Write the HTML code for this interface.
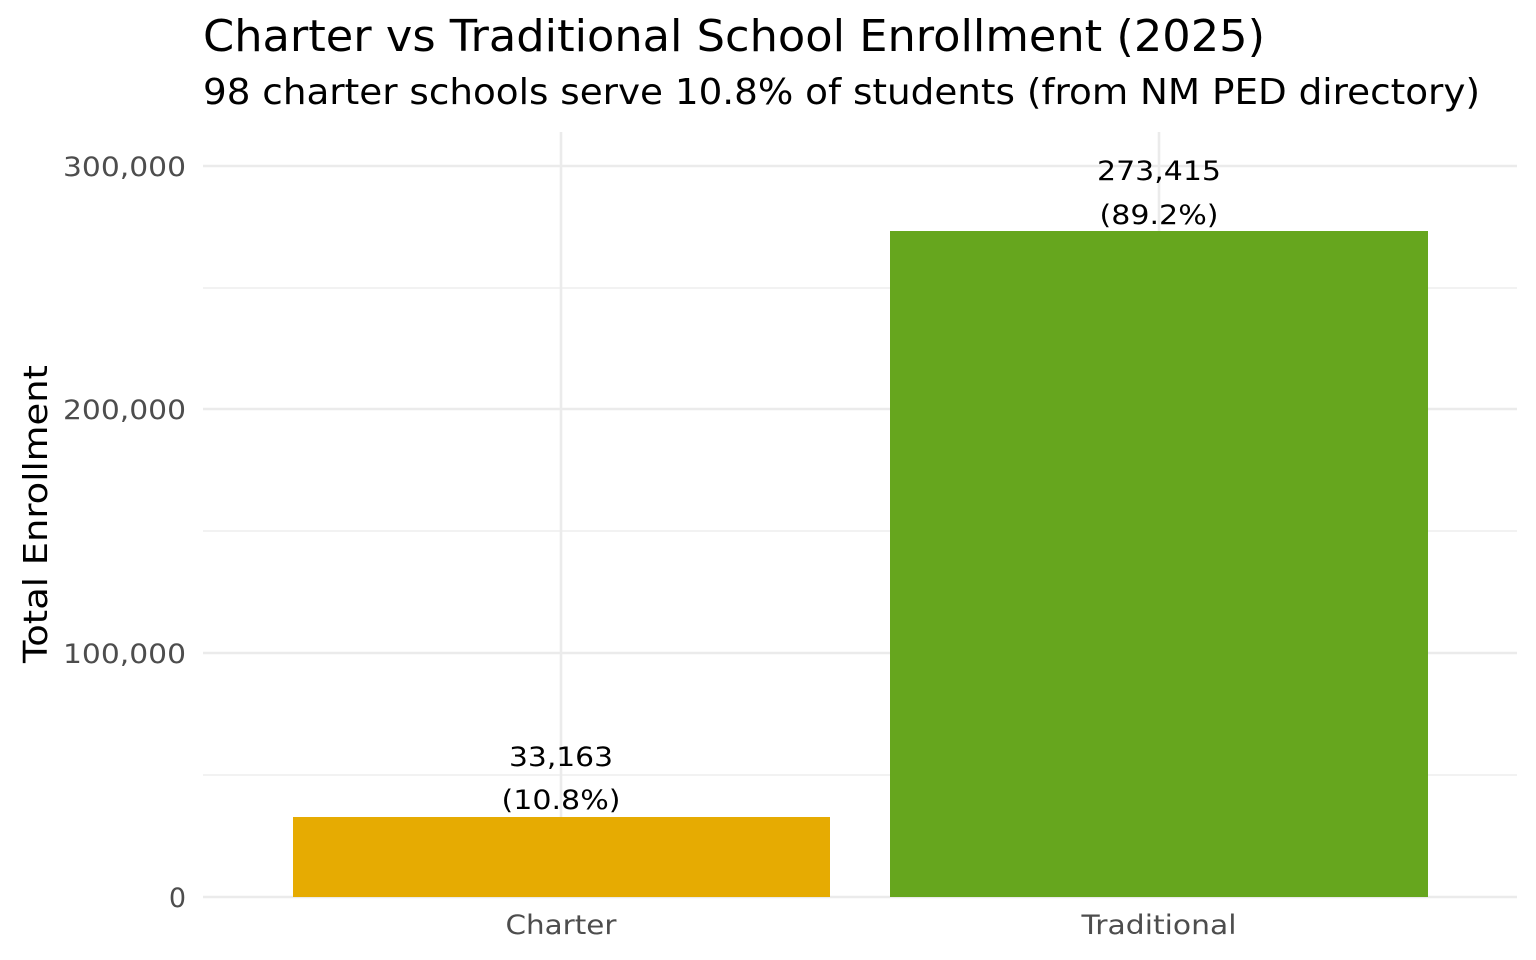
<!DOCTYPE html>
<html><head><meta charset="utf-8"><style>body{margin:0;background:#fff}svg{display:block}</style></head>
<body>
<svg width="1536" height="960" xmlns="http://www.w3.org/2000/svg" font-family="DejaVu Sans, Liberation Sans, sans-serif">
<rect width="1536" height="960" fill="#fff"/>
<g stroke="#ebebeb" stroke-width="1.2">
<line x1="203" x2="1517" y1="288" y2="288"/><line x1="203" x2="1517" y1="531" y2="531"/><line x1="203" x2="1517" y1="775" y2="775"/>
</g>
<g stroke="#ebebeb" stroke-width="2.6">
<line x1="203" x2="1517" y1="166" y2="166"/><line x1="203" x2="1517" y1="409" y2="409"/><line x1="203" x2="1517" y1="653" y2="653"/><line x1="203" x2="1517" y1="897" y2="897"/>
<line x1="561" x2="561" y1="132" y2="897"/><line x1="1159" x2="1159" y1="132" y2="897"/>
</g>
<rect x="293" y="817" width="537" height="80" fill="#E6AB02"/>
<rect x="890" y="231" width="538" height="666" fill="#66A61E"/>
<text x="203" y="51" font-size="39" fill="#000" textLength="1062" lengthAdjust="spacingAndGlyphs" style="font-size:44px">Charter vs Traditional School Enrollment (2025)</text>
<text x="203" y="104" font-size="36" fill="#000" textLength="1277" lengthAdjust="spacingAndGlyphs">98 charter schools serve 10.8% of students (from NM PED directory)</text>
<g font-size="27" fill="#4d4d4d" text-anchor="end">
<text x="186" y="176" textLength="123" lengthAdjust="spacingAndGlyphs">300,000</text><text x="186" y="419" textLength="123" lengthAdjust="spacingAndGlyphs">200,000</text><text x="186" y="663" textLength="123" lengthAdjust="spacingAndGlyphs">100,000</text><text x="186" y="907">0</text>
</g>
<g font-size="27" fill="#4d4d4d" text-anchor="middle">
<text x="561" y="934" textLength="111" lengthAdjust="spacingAndGlyphs">Charter</text><text x="1159" y="934" textLength="155" lengthAdjust="spacingAndGlyphs">Traditional</text>
</g>
<text transform="translate(47,514) rotate(-90)" font-size="33" fill="#000" text-anchor="middle" textLength="298" lengthAdjust="spacingAndGlyphs">Total Enrollment</text>
<g font-size="27" fill="#000" text-anchor="middle">
<text x="561" y="766" textLength="104" lengthAdjust="spacingAndGlyphs">33,163</text><text x="561" y="809" textLength="119" lengthAdjust="spacingAndGlyphs">(10.8%)</text>
<text x="1159" y="180" textLength="124" lengthAdjust="spacingAndGlyphs">273,415</text><text x="1159" y="224" textLength="119" lengthAdjust="spacingAndGlyphs">(89.2%)</text>
</g>
</svg>
</body></html>
